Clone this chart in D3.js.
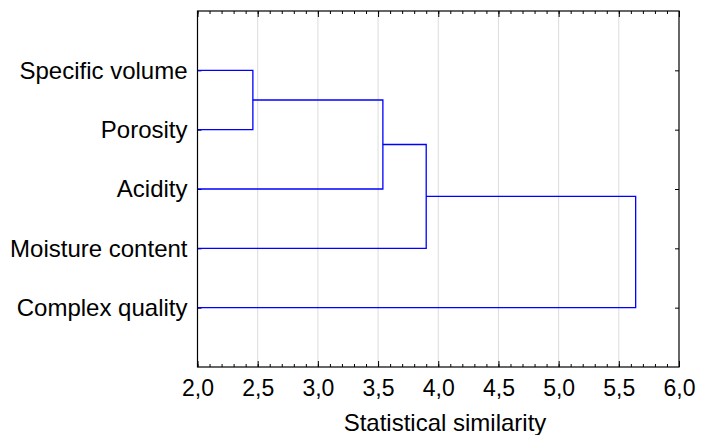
<!DOCTYPE html>
<html>
<head>
<meta charset="utf-8">
<script src="https://cdn.jsdelivr.net/npm/d3@7"></script>
<style>
  body{margin:0;background:#fff;}
  svg text{font-family:"Liberation Sans",Arial,sans-serif;fill:#000;}
</style>
</head>
<body>
<div id="chart"></div>
<script>
// leaves top to bottom
var variables = ["Specific volume", "Porosity", "Acidity", "Moisture content", "Complex quality"];
// joins: left node, right node, linkage distance (nodes >= 5 are earlier joins)
var joinLeft = [0, 5, 6, 7];
var joinRight = [1, 2, 3, 4];
var joinDist = [2.46, 3.54, 3.90, 5.64];
var xTicks = [2.0, 2.5, 3.0, 3.5, 4.0, 4.5, 5.0, 5.5, 6.0];
var xTitle = "Statistical similarity";

var width = 702, height = 435;
var margin = {top: 11, left: 197.5, right: 23, bottom: 68};
var innerW = width - margin.left - margin.right;
var innerH = height - margin.top - margin.bottom;

var svg = d3.select("#chart").append("svg")
    .attr("width", width).attr("height", height);
var g = svg.append("g")
    .attr("transform", "translate(" + margin.left + "," + margin.top + ")");

var x = d3.scaleLinear().domain([2, 6]).range([0, innerW]);
var y = d3.scalePoint().domain(variables).range([0, innerH]).padding(1);

var fmt = function(d){ return d3.format(".1f")(d).replace(".", ","); };
var minor = d3.range(20, 61).map(function(d){ return d / 10; });

// grid
g.selectAll(".grid").data(xTicks.slice(1, -1)).enter().append("line")
    .attr("class", "grid")
    .attr("x1", function(d){ return x(d); }).attr("x2", function(d){ return x(d); })
    .attr("y1", 0).attr("y2", innerH)
    .attr("stroke", "#dcdcdc").attr("stroke-width", 1);

// minor ticks bottom/top
var minorBottom = g.append("g").attr("transform", "translate(0," + innerH + ")")
    .call(d3.axisBottom(x).tickValues(minor).tickSize(-3).tickFormat(""));
var minorTop = g.append("g")
    .call(d3.axisTop(x).tickValues(minor).tickSize(-3).tickFormat(""));
[minorBottom, minorTop].forEach(function(a){ a.select(".domain").remove(); });

var xAxis = g.append("g").attr("transform", "translate(0," + innerH + ")")
    .call(d3.axisBottom(x).tickValues(xTicks).tickSize(-6).tickPadding(13).tickFormat(fmt));
xAxis.selectAll("text").attr("font-size", 23).attr("dy", "0.71em");
var xTop = g.append("g")
    .call(d3.axisTop(x).tickValues(xTicks).tickSize(-6).tickFormat(""));

var yAxis = g.append("g")
    .call(d3.axisLeft(y).tickSize(-4).tickPadding(10));
yAxis.selectAll("text").attr("font-size", 24);
var yRight = g.append("g").attr("transform", "translate(" + innerW + ",0)")
    .call(d3.axisRight(y).tickSize(-4).tickFormat(""));

[xAxis, xTop, yAxis, yRight].forEach(function(a){
    a.select(".domain").remove();
});
svg.selectAll(".tick line").attr("stroke", "#000");

// dendrogram links
var nodeX = variables.map(function(){ return 0; });
var nodeY = variables.map(function(v){ return y(v); });
var links = [];
for (var i = 0; i < joinDist.length; i++) {
    var a = joinLeft[i], b = joinRight[i], d = x(joinDist[i]);
    links.push([[nodeX[a], nodeY[a]], [d, nodeY[a]], [d, nodeY[b]], [nodeX[b], nodeY[b]]]);
    nodeX.push(d);
    nodeY.push((nodeY[a] + nodeY[b]) / 2);
}
g.selectAll(".link").data(links).enter().append("path")
    .attr("class", "link")
    .attr("d", d3.line())
    .attr("fill", "none").attr("stroke", "#0000ff").attr("stroke-width", 1.3);

// frame
g.append("rect").attr("width", innerW).attr("height", innerH)
    .attr("fill", "none").attr("stroke", "#000").attr("stroke-width", 1.2);

svg.append("text")
    .attr("x", 445).attr("y", 431)
    .attr("text-anchor", "middle").attr("font-size", 24)
    .text(xTitle);
</script>
</body>
</html>
